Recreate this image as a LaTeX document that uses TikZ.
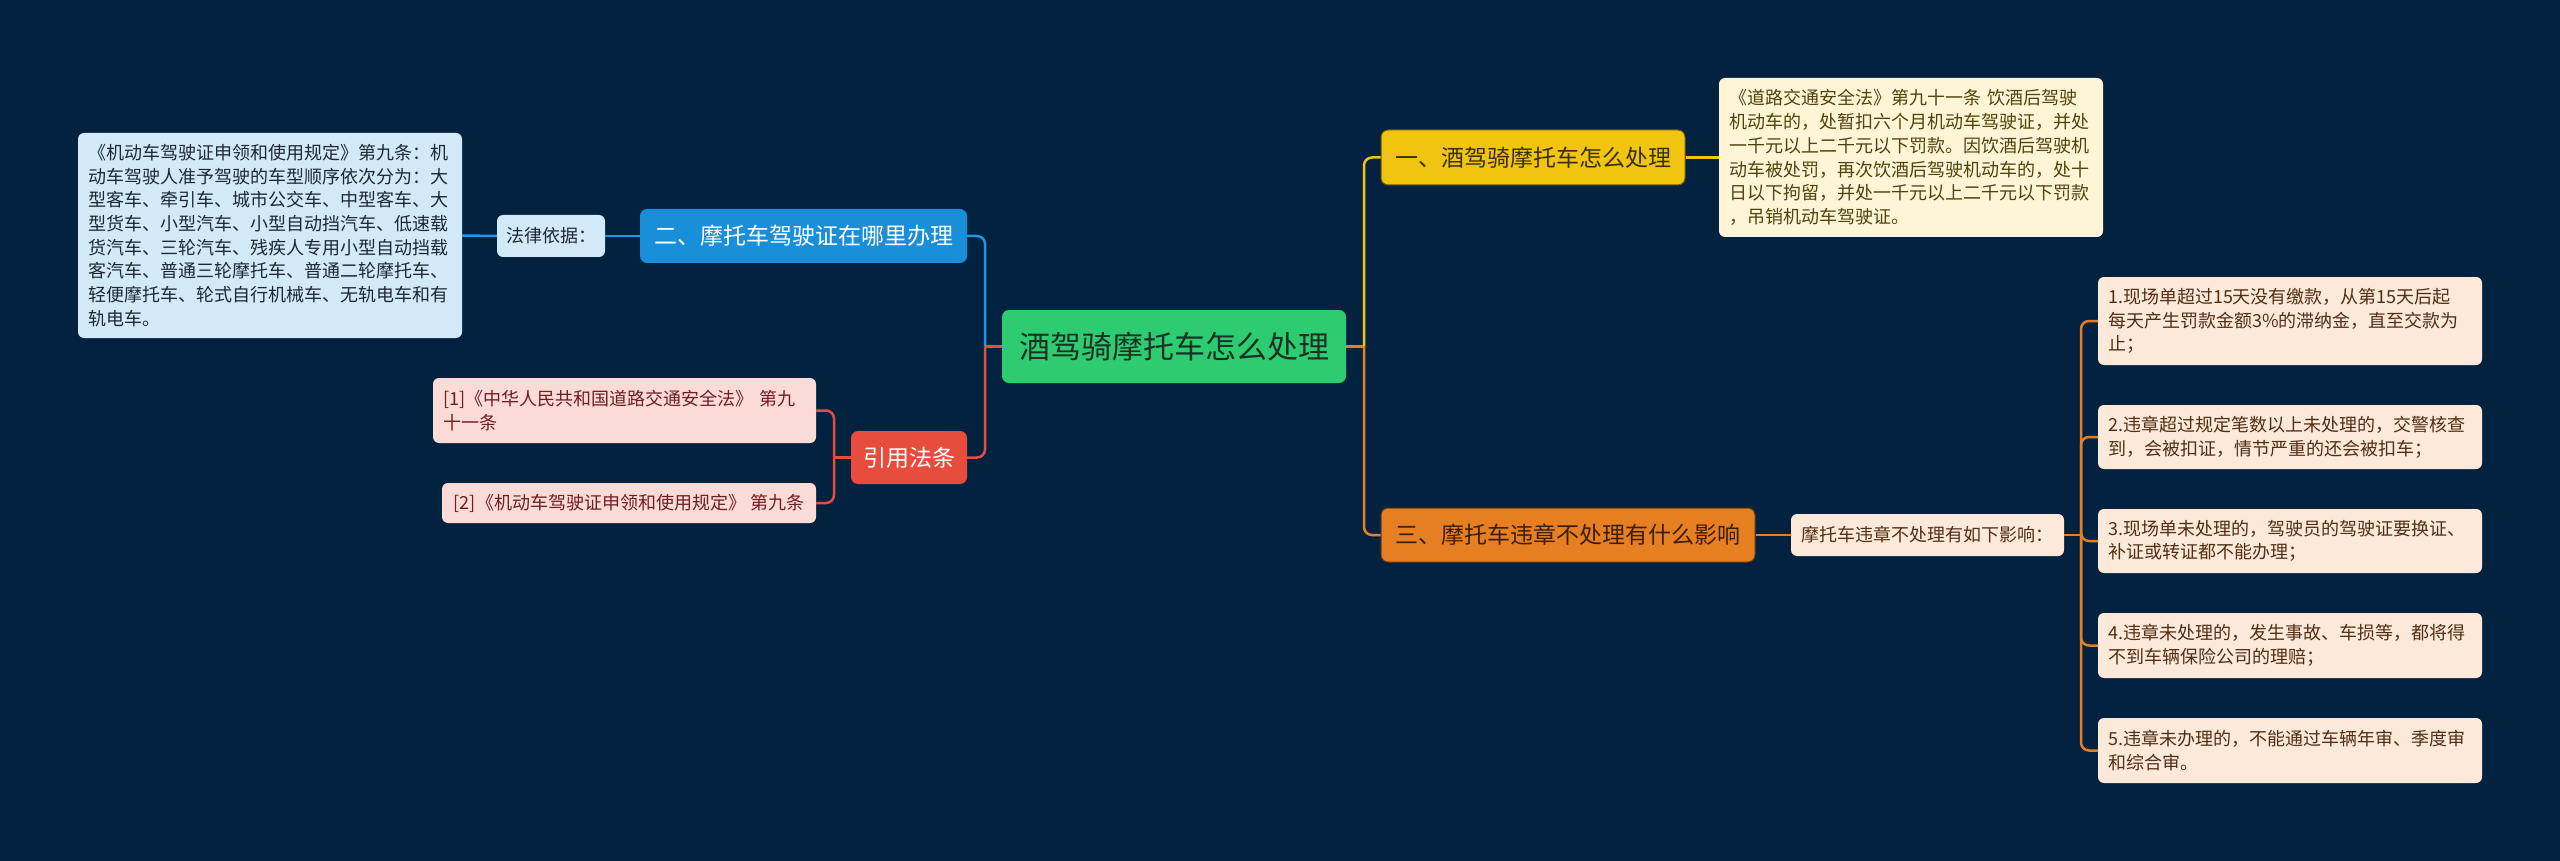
\documentclass[tikz,border=0pt]{standalone}
\usepackage{fontspec}
\setmainfont{Noto Sans CJK SC}
\usepackage{tikz}
\definecolor{bgnavy}{RGB}{3,34,64}
\definecolor{mgreen}{RGB}{46,204,113}
\definecolor{mgreentext}{RGB}{28,48,36}
\definecolor{myellow}{RGB}{241,196,15}
\definecolor{myellowtext}{RGB}{58,48,8}
\definecolor{morange}{RGB}{230,126,34}
\definecolor{morangetext}{RGB}{58,30,6}
\definecolor{mblue}{RGB}{24,143,216}
\definecolor{mbluel}{RGB}{30,152,222}
\definecolor{mred}{RGB}{231,76,60}
\definecolor{mlblue}{RGB}{210,234,248}
\definecolor{mlbluetext}{RGB}{30,40,52}
\definecolor{mcream}{RGB}{253,245,214}
\definecolor{mcreamtext}{RGB}{82,66,12}
\definecolor{mpeach}{RGB}{252,233,218}
\definecolor{mpeachtext}{RGB}{82,46,20}
\definecolor{mpink}{RGB}{250,219,216}
\definecolor{mpinktext}{RGB}{112,30,30}

\begin{document}
\begin{tikzpicture}[x=1pt,y=-1pt,
    topic/.style={rounded corners=7pt,inner sep=0pt,font=\fontsize{23}{28}\selectfont},
    tag/.style={rounded corners=6pt,inner sep=0pt,font=\fontsize{18}{23.7}\selectfont},
    note/.style={rounded corners=6pt,inner xsep=10pt,inner ysep=0pt,align=left,text width=364pt,font=\fontsize{18}{23.7}\selectfont},
    link/.style={line width=2.5pt}]
        % background
        \fill[bgnavy] (0,0) rectangle (2560,861);
        \useasboundingbox (0,0) rectangle (2560,861);
        % central topic
        \node[topic,fill=mgreen,text=mgreentext,minimum width=344pt,minimum height=73pt,font=\fontsize{31}{36}\selectfont] (root) at (1174,346.5) {酒驾骑摩托车怎么处理};
        % right side, first topic
        \node[topic,fill=myellow,draw=myellow!45!black,line width=1pt,text=myellowtext,minimum width=304pt,minimum height=55pt] (drunk) at (1533,157.5) {一、酒驾骑摩托车怎么处理};
        \node[note,fill=mcream,text=mcreamtext,minimum height=159pt] (drunklaw) at (1911,157.5) {《道路交通安全法》第九十一条 饮酒后驾驶\\
机动车的，处暂扣六个月机动车驾驶证，并处\\
一千元以上二千元以下罚款。因饮酒后驾驶机\\
动车被处罚，再次饮酒后驾驶机动车的，处十\\
日以下拘留，并处一千元以上二千元以下罚款\\
，吊销机动车驾驶证。};
        % right side, third topic
        \node[topic,fill=morange,draw=morange!45!black,line width=1pt,text=morangetext,minimum width=374pt,minimum height=54pt] (fine) at (1568,535) {三、摩托车违章不处理有什么影响};
        \node[tag,fill=mpeach,text=mpeachtext,minimum width=273pt,minimum height=42pt] (finesum) at (1927.5,535) {摩托车违章不处理有如下影响：};
        \node[note,fill=mpeach,text=mpeachtext,minimum height=88pt] (fa) at (2290,321) {1.现场单超过15天没有缴款，从第15天后起\\
每天产生罚款金额3\%的滞纳金，直至交款为\\
止；};
        \node[note,fill=mpeach,text=mpeachtext,minimum height=64pt] (fb) at (2290,437) {2.违章超过规定笔数以上未处理的，交警核查\\
到，会被扣证，情节严重的还会被扣车；};
        \node[note,fill=mpeach,text=mpeachtext,minimum height=64pt] (fc) at (2290,541) {3.现场单未处理的，驾驶员的驾驶证要换证、\\
补证或转证都不能办理；};
        \node[note,fill=mpeach,text=mpeachtext,minimum height=65pt] (fd) at (2290,645.5) {4.违章未处理的，发生事故、车损等，都将得\\
不到车辆保险公司的理赔；};
        \node[note,fill=mpeach,text=mpeachtext,minimum height=65pt] (fe) at (2290,750.5) {5.违章未办理的，不能通过车辆年审、季度审\\
和综合审。};
        % left side, second topic
        \node[topic,fill=mblue,text=white,minimum width=327pt,minimum height=54pt] (licence) at (803.5,236) {二、摩托车驾驶证在哪里办理};
        \node[tag,fill=mlblue,text=mlbluetext,minimum width=108pt,minimum height=42pt] (basis) at (551,236) {法律依据：};
        \node[note,fill=mlblue,text=mlbluetext,minimum height=205pt] (rule) at (270,235.5) {《机动车驾驶证申领和使用规定》第九条：机\\
动车驾驶人准予驾驶的车型顺序依次分为：大\\
型客车、牵引车、城市公交车、中型客车、大\\
型货车、小型汽车、小型自动挡汽车、低速载\\
货汽车、三轮汽车、残疾人专用小型自动挡载\\
客汽车、普通三轮摩托车、普通二轮摩托车、\\
轻便摩托车、轮式自行机械车、无轨电车和有\\
轨电车。};
        % left side, cited laws
        \node[topic,fill=mred,text=white,minimum width=116pt,minimum height=53pt] (cite) at (909,457.5) {引用法条};
        \node[note,fill=mpink,text=mpinktext,text width=363pt,minimum height=65pt] (citea) at (624.5,410.5) {[1]《中华人民共和国道路交通安全法》 第九\\
十一条};
        \node[tag,fill=mpink,text=mpinktext,minimum width=374pt,minimum height=40pt] (citeb) at (629,503) {[2]《机动车驾驶证申领和使用规定》 第九条};
        %connectors right
        \coordinate (rtrunk) at (1364,346.5);
        \draw[link,morange] (root.east) -- (rtrunk);
        \draw[link,myellow,rounded corners=8pt] (rtrunk) |- (drunk.west);
        \draw[link,morange,rounded corners=8pt] (rtrunk) |- (fine.west);
        \draw[link,myellow] (drunk.east) -- (drunklaw.west);
        \draw[link,morange] (fine.east) -- (finesum.west);
        \coordinate (ftrunk) at (2081,535);
        \draw[link,morange] (finesum.east) -- (ftrunk);
        \foreach \leaf in {fa,fb,fc,fd,fe}
            \draw[link,morange,rounded corners=8pt] (ftrunk) |- (\leaf.west);
        %connectors left
        \coordinate (ltrunk) at (985,346.5);
        \draw[link,mred] (root.west) -- (ltrunk);
        \draw[link,mbluel,rounded corners=8pt] (ltrunk) |- (licence.east);
        \draw[link,mred,rounded corners=8pt] (ltrunk) |- (cite.east);
        \draw[link,mbluel] (licence.west) -- (basis.east);
        \draw[link,mbluel] (basis.west) -- (rule.east);
        \coordinate (ctrunk) at (834,457.5);
        \draw[link,mred] (cite.west) -- (ctrunk);
        \draw[link,mred,rounded corners=8pt] (ctrunk) |- (citea.east);
        \draw[link,mred,rounded corners=8pt] (ctrunk) |- (citeb.east);
      \end{tikzpicture}
\end{document}
